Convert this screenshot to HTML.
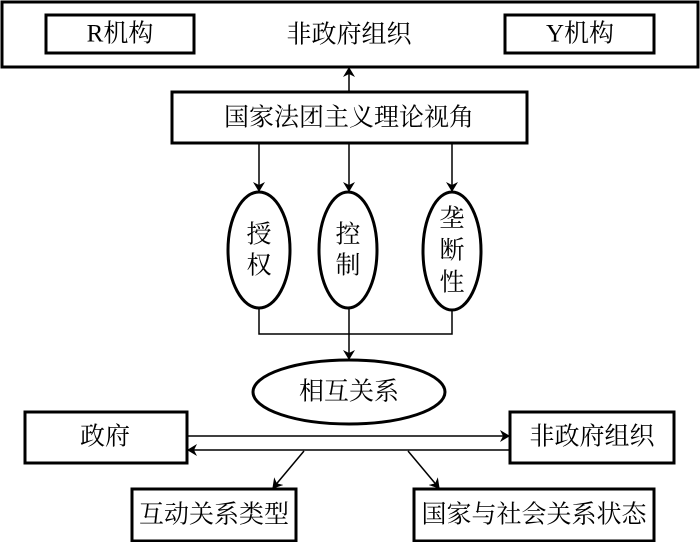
<!DOCTYPE html>
<html><head><meta charset="utf-8"><style>
body{margin:0;background:#fff;}
svg{display:block;}
text{font-family:"Liberation Serif","Noto Serif CJK SC","Noto Sans CJK SC",serif;font-size:25px;fill:#000;text-anchor:middle;dominant-baseline:central;}
</style></head><body>
<svg width="700" height="542" viewBox="0 0 700 542" xmlns="http://www.w3.org/2000/svg">
<defs><marker id="a" markerWidth="10" markerHeight="12" refX="9" refY="6" orient="auto" markerUnits="userSpaceOnUse"><path d="M0,0 L10,6 L0,12 L3,6 z" fill="#000"/></marker></defs>
<g fill="none" stroke="#000" stroke-width="3">
<rect x="2" y="2" width="696" height="65"/>
<rect x="46" y="15" width="148" height="38"/>
<rect x="505" y="15" width="149" height="38"/>
<rect x="172" y="92" width="355" height="51"/>
<ellipse cx="259" cy="250" rx="31" ry="58"/>
<ellipse cx="348" cy="250" rx="29" ry="58"/>
<ellipse cx="452" cy="251" rx="29" ry="59"/>
<ellipse cx="349" cy="392" rx="96" ry="32"/>
<rect x="25" y="412" width="162" height="51"/>
<rect x="510" y="412" width="164" height="51"/>
<rect x="132" y="489" width="164" height="52"/>
<rect x="414" y="489" width="240" height="52"/>
</g>
<g fill="none" stroke="#000" stroke-width="1.5">
<line x1="349" y1="92" x2="349" y2="68" marker-end="url(#a)"/>
<line x1="259" y1="143" x2="259" y2="191" marker-end="url(#a)"/>
<line x1="349" y1="143" x2="349" y2="191" marker-end="url(#a)"/>
<line x1="452" y1="143" x2="452" y2="191" marker-end="url(#a)"/>
<polyline points="259,308 259,334 452,334 452,310"/>
<line x1="349" y1="308" x2="349" y2="359" marker-end="url(#a)"/>
<line x1="187" y1="436" x2="509" y2="436" marker-end="url(#a)"/>
<line x1="510" y1="450" x2="188" y2="450" marker-end="url(#a)"/>
<line x1="304" y1="451" x2="273" y2="488" marker-end="url(#a)"/>
<line x1="408" y1="451" x2="439" y2="488" marker-end="url(#a)"/>
</g>
<text x="120" y="34">R机构</text>
<text x="580" y="34">Y机构</text>
<text x="349" y="35">非政府组织</text>
<text x="349" y="118">国家法团主义理论视角</text>
<text x="259" y="235">授</text><text x="259" y="266">权</text>
<text x="348" y="235">控</text><text x="348" y="266">制</text>
<text x="452" y="219">垄</text><text x="452" y="251">断</text><text x="452" y="283">性</text>
<text x="349" y="392">相互关系</text>
<text x="105" y="437">政府</text>
<text x="592" y="437">非政府组织</text>
<text x="214" y="515">互动关系类型</text>
<text x="534" y="515">国家与社会关系状态</text>
</svg>
</body></html>
